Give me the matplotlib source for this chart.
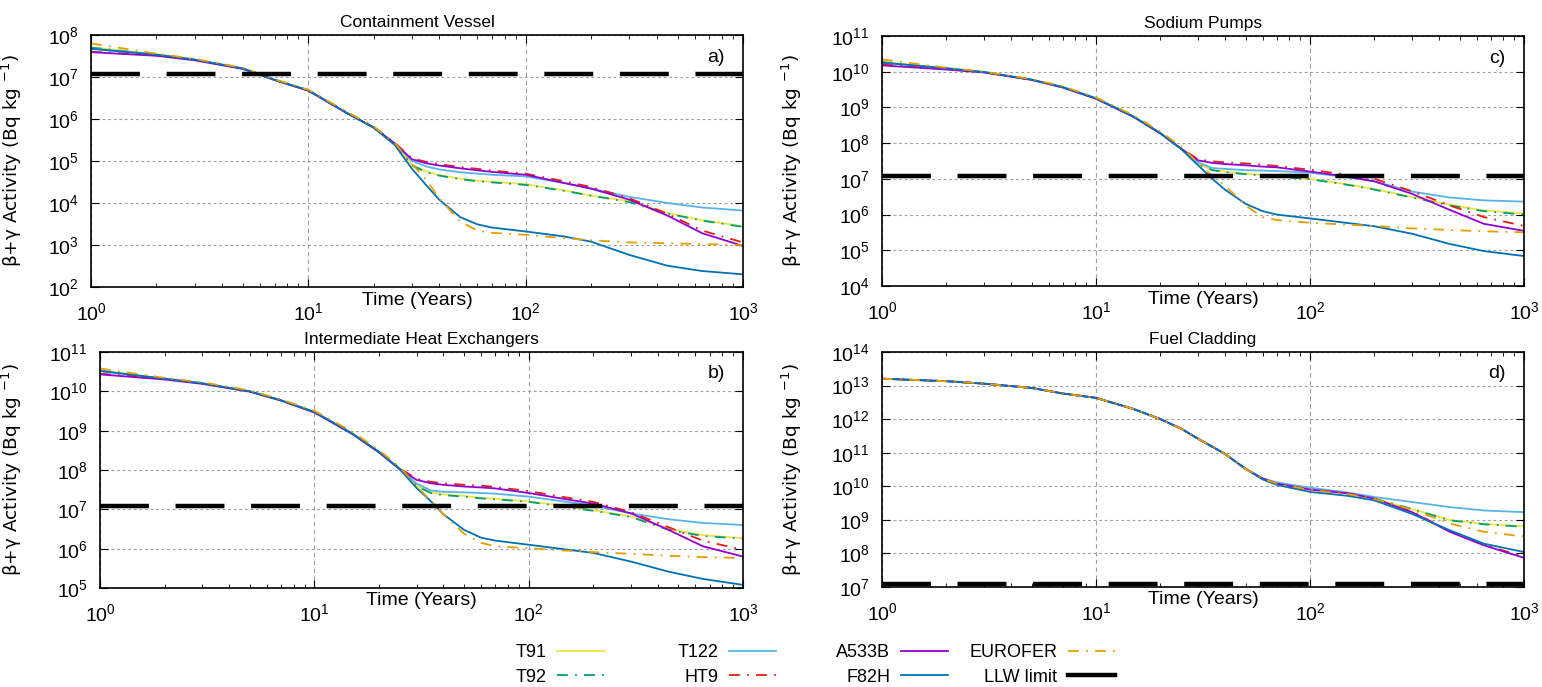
import math
import matplotlib
matplotlib.use("Agg")
import matplotlib.pyplot as plt
from matplotlib.ticker import LogLocator, NullLocator, FuncFormatter
from matplotlib.lines import Line2D

plt.rcParams["font.family"] = ["Liberation Sans", "DejaVu Sans"]

# time points (years)
years = [1, 2, 3, 5, 7, 10, 15, 20, 25, 30, 35, 40, 50, 60, 70, 100, 150, 200, 300, 450, 650, 1000]

# a) Containment Vessel
cv_t91 = [5.1e7, 3.5e7, 2.6e7, 1.6e7, 8.5e6, 4.8e6, 1.4e6, 6.3e5, 2.5e5, 8.0e4, 5.6e4, 4.6e4, 3.8e4, 3.4e4, 3.2e4, 2.8e4, 2.0e4, 1.5e4, 1.1e4, 5.8e3, 3.9e3, 2.8e3]
cv_t92 = [5.0e7, 3.4e7, 2.6e7, 1.6e7, 8.5e6, 4.8e6, 1.4e6, 6.2e5, 2.5e5, 7.8e4, 5.4e4, 4.5e4, 3.7e4, 3.3e4, 3.1e4, 2.7e4, 1.95e4, 1.5e4, 1.05e4, 5.6e3, 3.8e3, 2.7e3]
cv_t122 = [4.8e7, 3.4e7, 2.6e7, 1.6e7, 8.5e6, 4.8e6, 1.4e6, 6.3e5, 2.6e5, 1.0e5, 7.4e4, 6.3e4, 5.4e4, 5.0e4, 4.7e4, 4.3e4, 3.0e4, 2.2e4, 1.4e4, 1.0e4, 7.8e3, 6.6e3]
cv_ht9 = [4.0e7, 3.3e7, 2.6e7, 1.6e7, 8.7e6, 4.8e6, 1.45e6, 6.5e5, 2.7e5, 1.15e5, 9.5e4, 8.4e4, 7.2e4, 6.5e4, 5.9e4, 5.0e4, 3.3e4, 2.4e4, 1.3e4, 5.5e3, 2.2e3, 1.15e3]
cv_a533b = [3.9e7, 3.2e7, 2.5e7, 1.55e7, 8.5e6, 4.7e6, 1.4e6, 6.3e5, 2.6e5, 1.1e5, 8.8e4, 7.8e4, 6.7e4, 6.0e4, 5.5e4, 4.7e4, 3.0e4, 2.2e4, 1.2e4, 5.0e3, 1.9e3, 9.5e2]
cv_f82h = [4.7e7, 3.4e7, 2.6e7, 1.6e7, 8.5e6, 4.8e6, 1.4e6, 6.2e5, 2.4e5, 6.5e4, 2.6e4, 1.2e4, 4.6e3, 3.1e3, 2.6e3, 2.1e3, 1.6e3, 1.2e3, 5.8e2, 3.2e2, 2.4e2, 2.0e2]
cv_eurofer = [6.3e7, 3.6e7, 2.7e7, 1.65e7, 8.8e6, 5.0e6, 1.5e6, 6.6e5, 2.7e5, 8.5e4, 3.5e4, 1.3e4, 3.6e3, 2.2e3, 1.95e3, 1.75e3, 1.45e3, 1.3e3, 1.15e3, 1.1e3, 1.05e3, 1.0e3]

# c) Sodium Pumps
sp_t91 = [1.9e10, 1.25e10, 9.8e9, 6.0e9, 3.7e9, 1.8e9, 5.5e8, 1.9e8, 7.0e7, 2.6e7, 1.8e7, 1.6e7, 1.4e7, 1.27e7, 1.2e7, 1.0e7, 7.0e6, 5.2e6, 3.1e6, 1.9e6, 1.3e6, 1.08e6]
sp_t92 = [1.85e10, 1.25e10, 9.7e9, 6.0e9, 3.7e9, 1.8e9, 5.5e8, 1.9e8, 6.9e7, 2.5e7, 1.75e7, 1.55e7, 1.35e7, 1.25e7, 1.17e7, 9.8e6, 6.8e6, 5.0e6, 3.0e6, 1.8e6, 1.25e6, 1.0e6]
sp_t122 = [1.8e10, 1.25e10, 9.8e9, 6.0e9, 3.7e9, 1.8e9, 5.5e8, 1.9e8, 7.0e7, 2.9e7, 2.0e7, 1.9e7, 1.75e7, 1.7e7, 1.65e7, 1.5e7, 1.1e7, 8.5e6, 4.4e6, 3.0e6, 2.5e6, 2.3e6]
sp_ht9 = [1.6e10, 1.2e10, 9.7e9, 6.0e9, 3.7e9, 1.8e9, 5.5e8, 1.9e8, 7.2e7, 3.5e7, 3.1e7, 2.9e7, 2.7e7, 2.5e7, 2.3e7, 1.8e7, 1.3e7, 1.0e7, 4.5e6, 1.8e6, 8.5e5, 4.8e5]
sp_a533b = [1.5e10, 1.15e10, 9.5e9, 5.9e9, 3.6e9, 1.75e9, 5.4e8, 1.85e8, 7.0e7, 3.3e7, 2.8e7, 2.6e7, 2.4e7, 2.2e7, 2.1e7, 1.6e7, 1.15e7, 8.5e6, 3.8e6, 1.35e6, 5.5e5, 3.5e5]
sp_f82h = [1.8e10, 1.25e10, 9.8e9, 6.0e9, 3.7e9, 1.8e9, 5.5e8, 1.9e8, 6.8e7, 2.4e7, 1.0e7, 5.0e6, 2.0e6, 1.25e6, 1.0e6, 7.8e5, 5.8e5, 4.7e5, 2.9e5, 1.5e5, 9.5e4, 6.9e4]
sp_eurofer = [2.2e10, 1.3e10, 1.0e10, 6.2e9, 3.9e9, 1.9e9, 6.0e8, 2.1e8, 8.0e7, 2.8e7, 1.2e7, 6.5e6, 1.8e6, 8.5e5, 7.0e5, 5.9e5, 5.2e5, 4.8e5, 4.1e5, 3.7e5, 3.4e5, 3.2e5]

# b) Intermediate Heat Exchangers
ihx_t91 = [3.4e10, 2.1e10, 1.6e10, 1.0e10, 5.9e9, 3.0e9, 8.5e8, 2.9e8, 1.1e8, 4.0e7, 2.7e7, 2.4e7, 2.2e7, 1.95e7, 1.85e7, 1.6e7, 1.2e7, 9.5e6, 6.6e6, 3.2e6, 2.2e6, 1.85e6]
ihx_t92 = [3.3e10, 2.1e10, 1.6e10, 1.0e10, 5.9e9, 3.0e9, 8.5e8, 2.9e8, 1.1e8, 3.9e7, 2.6e7, 2.3e7, 2.1e7, 1.9e7, 1.8e7, 1.55e7, 1.15e7, 9.2e6, 6.4e6, 3.0e6, 2.1e6, 1.8e6]
ihx_t122 = [3.3e10, 2.1e10, 1.6e10, 1.0e10, 5.9e9, 3.0e9, 8.5e8, 2.9e8, 1.1e8, 4.5e7, 3.0e7, 2.8e7, 2.7e7, 2.6e7, 2.5e7, 2.1e7, 1.55e7, 1.25e7, 7.9e6, 5.6e6, 4.5e6, 4.0e6]
ihx_ht9 = [2.8e10, 2.1e10, 1.6e10, 1.0e10, 5.9e9, 3.0e9, 8.5e8, 2.9e8, 1.1e8, 6.0e7, 5.0e7, 4.6e7, 4.2e7, 4.0e7, 3.7e7, 2.9e7, 2.0e7, 1.55e7, 8.5e6, 3.5e6, 1.6e6, 9.3e5]
ihx_a533b = [2.7e10, 2.0e10, 1.55e10, 9.8e9, 5.8e9, 2.9e9, 8.3e8, 2.8e8, 1.05e8, 5.6e7, 4.6e7, 4.2e7, 3.8e7, 3.6e7, 3.4e7, 2.6e7, 1.8e7, 1.4e7, 7.9e6, 3.0e6, 1.15e6, 6.3e5]
ihx_f82h = [3.3e10, 2.1e10, 1.6e10, 1.0e10, 5.9e9, 3.0e9, 8.5e8, 2.9e8, 1.05e8, 3.5e7, 1.6e7, 7.5e6, 3.0e6, 1.9e6, 1.6e6, 1.26e6, 9.5e5, 7.8e5, 4.7e5, 2.6e5, 1.7e5, 1.2e5]
ihx_eurofer = [3.8e10, 2.2e10, 1.7e10, 1.05e10, 6.2e9, 3.2e9, 9.5e8, 3.2e8, 1.2e8, 4.0e7, 1.6e7, 7.5e6, 2.4e6, 1.4e6, 1.15e6, 1.03e6, 8.9e5, 8.2e5, 7.4e5, 6.6e5, 6.1e5, 5.8e5]

# d) Fuel Cladding
fc_t91 = [1.6e13, 1.35e13, 1.14e13, 8.5e12, 5.8e12, 4.3e12, 2.0e12, 1.0e12, 5.2e11, 2.6e11, 1.5e11, 9.3e10, 3.3e10, 1.7e10, 1.2e10, 7.9e9, 6.0e9, 4.3e9, 2.1e9, 9.9e8, 7.6e8, 6.4e8]
fc_t92 = [1.6e13, 1.35e13, 1.14e13, 8.5e12, 5.8e12, 4.3e12, 2.0e12, 1.0e12, 5.2e11, 2.6e11, 1.5e11, 9.3e10, 3.3e10, 1.7e10, 1.2e10, 7.9e9, 6.0e9, 4.3e9, 2.1e9, 9.7e8, 7.4e8, 6.2e8]
fc_t122 = [1.6e13, 1.35e13, 1.14e13, 8.5e12, 5.8e12, 4.3e12, 2.0e12, 1.0e12, 5.2e11, 2.6e11, 1.5e11, 9.3e10, 3.3e10, 1.75e10, 1.3e10, 9.1e9, 6.5e9, 4.8e9, 3.4e9, 2.4e9, 1.9e9, 1.7e9]
fc_ht9 = [1.6e13, 1.35e13, 1.14e13, 8.5e12, 5.8e12, 4.3e12, 2.0e12, 1.0e12, 5.2e11, 2.6e11, 1.5e11, 9.3e10, 3.3e10, 1.7e10, 1.2e10, 7.9e9, 6.1e9, 4.3e9, 1.75e9, 4.6e8, 1.8e8, 8.0e7]
fc_a533b = [1.6e13, 1.35e13, 1.14e13, 8.5e12, 5.8e12, 4.3e12, 2.0e12, 1.0e12, 5.2e11, 2.6e11, 1.5e11, 9.3e10, 3.3e10, 1.7e10, 1.2e10, 8.0e9, 6.2e9, 4.3e9, 1.7e9, 4.4e8, 1.74e8, 7.4e7]
fc_f82h = [1.6e13, 1.35e13, 1.14e13, 8.5e12, 5.8e12, 4.3e12, 2.0e12, 1.0e12, 5.2e11, 2.6e11, 1.5e11, 9.3e10, 3.3e10, 1.6e10, 1.1e10, 6.8e9, 5.2e9, 3.8e9, 1.5e9, 4.9e8, 1.95e8, 1.1e8]
fc_eurofer = [1.6e13, 1.35e13, 1.14e13, 8.5e12, 5.8e12, 4.3e12, 2.0e12, 1.0e12, 5.2e11, 2.6e11, 1.5e11, 9.3e10, 3.3e10, 1.7e10, 1.2e10, 7.8e9, 5.9e9, 4.2e9, 2.0e9, 7.8e8, 4.4e8, 3.2e8]

llw_limit = 1.2e7

materials = ["T91", "T92", "T122", "HT9", "A533B", "F82H", "EUROFER"]
colors = ["#F0E442", "#009E73", "#56B4E9", "#E51E10", "#9400D3", "#0072B2", "#E69F00"]
dashdot = (6, 4, 1, 4)
styles = [None, dashdot, None, dashdot, None, None, dashdot]

W, H = 1542, 687


def px_rect(left, top, right, bottom):
    return [left / W, 1 - bottom / H, (right - left) / W, (bottom - top) / H]


def pow10(v, pos):
    return r"$\mathdefault{10^{%d}}$" % round(math.log10(v))


panels = [
    ("Containment Vessel", "a)", (1e2, 1e8), px_rect(91, 35, 743, 287),
     [cv_t91, cv_t92, cv_t122, cv_ht9, cv_a533b, cv_f82h, cv_eurofer]),
    ("Sodium Pumps", "c)", (1e4, 1e11), px_rect(882, 36, 1524, 286),
     [sp_t91, sp_t92, sp_t122, sp_ht9, sp_a533b, sp_f82h, sp_eurofer]),
    ("Intermediate Heat Exchangers", "b)", (1e5, 1e11), px_rect(100, 352, 743, 588),
     [ihx_t91, ihx_t92, ihx_t122, ihx_ht9, ihx_a533b, ihx_f82h, ihx_eurofer]),
    ("Fuel Cladding", "d)", (1e7, 1e14), px_rect(882, 352, 1524, 587),
     [fc_t91, fc_t92, fc_t122, fc_ht9, fc_a533b, fc_f82h, fc_eurofer]),
]

fig = plt.figure(figsize=(W / 100, H / 100), dpi=100)

for title, letter, ylim, rect, series in panels:
    ax = fig.add_axes(rect)
    for name, vals, col, ls in zip(materials, series, colors, styles):
        line, = ax.plot(years, vals, color=col, lw=1.3, label=name)
        if ls is not None:
            line.set_dashes(ls)
    llw, = ax.plot([1, 1000], [llw_limit, llw_limit], color="black", lw=3.2,
                   label="LLW limit", zorder=5)
    llw.set_dashes((11, 6))

    ax.set_xscale("log")
    ax.set_yscale("log")
    ax.set_xlim(1, 1000)
    ax.set_ylim(*ylim)
    ax.yaxis.set_major_locator(LogLocator(base=10, numticks=20))
    ax.yaxis.set_minor_locator(NullLocator())
    ax.xaxis.set_major_formatter(FuncFormatter(pow10))
    ax.yaxis.set_major_formatter(FuncFormatter(pow10))
    ax.grid(True, axis="x", which="major", color="#a0a0a0", lw=0.8, ls=(0, (4, 3)))
    ax.grid(True, axis="y", which="major", color="#a0a0a0", lw=0.8, ls=(0, (2.5, 2.5)))
    ax.tick_params(which="both", direction="in", top=True, right=True, labelsize=14)
    ax.tick_params(axis="x", which="major", length=6, pad=11)
    ax.tick_params(axis="x", which="minor", length=3)
    ax.tick_params(axis="y", which="major", length=6, pad=9)
    for sp in ax.spines.values():
        sp.set_linewidth(1.2)

    ax.set_title(title, fontsize=12.5, pad=6)
    ax.set_xlabel("Time (Years)", fontsize=14, va="center")
    ax.xaxis.set_label_coords(0.5, -0.055)
    ax.set_ylabel("β+γ Activity (Bq kg $^{-1}$)", fontsize=13.3, family="DejaVu Sans")
    # ylabel sits ~24 px from the panel's left image column
    left_px = rect[0] * W
    col_px = 24 if left_px < 400 else 804
    ax.yaxis.set_label_coords((col_px - left_px) / (rect[2] * W), 0.5)
    ax.text(0.958, 0.91, letter, transform=ax.transAxes, fontsize=14,
            ha="center", va="center")

# legend: four fixed-width columns, text before the line
handles = [Line2D([], [], color=c, lw=1.3) for c in colors]
for h, ls in zip(handles, styles):
    if ls is not None:
        h.set_dashes(ls)
llw_handle = Line2D([], [], color="black", lw=3.2)
labels = materials + ["LLW limit"]
handles = handles + [llw_handle]
col_ends = [604, 776, 948, 1115]
for i, xe in enumerate(col_ends):
    fig.legend(handles[2 * i:2 * i + 2], labels[2 * i:2 * i + 2],
               loc="center right", bbox_to_anchor=(xe / W, 1 - 665 / H),
               frameon=False, markerfirst=False, fontsize=13,
               handlelength=2.6, handletextpad=0.6, labelspacing=0.4,
               borderpad=0, borderaxespad=0)

fig.savefig("out.png", dpi=100)
